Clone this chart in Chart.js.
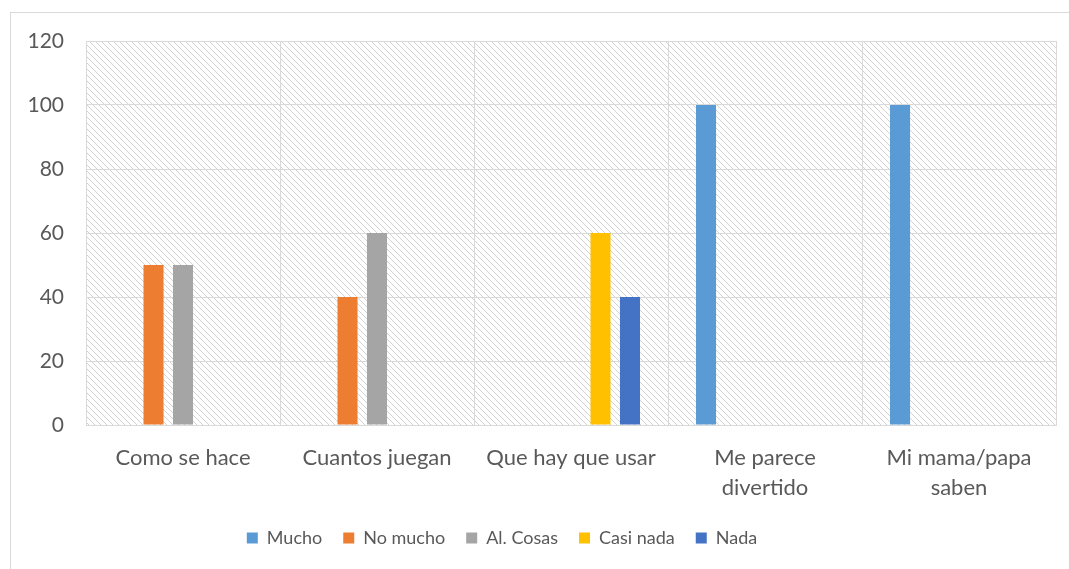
<!DOCTYPE html>
<html>
<head>
<meta charset="utf-8">
<script src="https://cdn.jsdelivr.net/npm/chart.js@4.4.1/dist/chart.umd.min.js"></script>
<style>
  html, body { margin: 0; padding: 0; background: #fff; }
  canvas { display: block; }
</style>
</head>
<body>
<canvas id="myChart" width="1069" height="569"></canvas>
<script>
// data
const categories = ['Como se hace', 'Cuantos juegan', 'Que hay que usar', ['Me parece', 'divertido'], ['Mi mama/papa', 'saben']];
const seriesNames = ['Mucho', 'No mucho', 'Al. Cosas', 'Casi nada', 'Nada'];
const mucho = [0, 0, 0, 100, 100];
const noMucho = [50, 40, 0, 0, 0];
const alCosas = [50, 60, 0, 0, 0];
const casiNada = [0, 0, 60, 0, 0];
const nada = [0, 0, 40, 0, 0];
const yTicks = [0, 20, 40, 60, 80, 100, 120];

const seriesValues = [mucho, noMucho, alCosas, casiNada, nada];
const colors = ['#5b9bd5', '#ed7d31', '#a5a5a5', '#ffc000', '#4472c4'];
const textColor = '#595959';
const gridColor = '#d9d9d9';

// small tile for the diagonal hatch of the plot area
function makeHatch() {
  const c = document.createElement('canvas');
  c.width = 6; c.height = 6;
  const g = c.getContext('2d');
  g.fillStyle = '#d2d2d2';
  for (let i = 0; i < 6; i++) g.fillRect(i, i, 1, 1);
  return c;
}

const hatchBg = {
  id: 'hatchBg',
  afterLayout(chart) {
    // legend sits a bit left of the canvas centre in the original
    chart.legend.left -= 31;
    chart.legend.right -= 31;
  },
  beforeDraw(chart) {
    const { ctx, chartArea: a } = chart;
    ctx.save();
    // outer frame of the chart
    ctx.strokeStyle = gridColor;
    ctx.lineWidth = 1;
    ctx.strokeRect(10.5, 12.5, chart.width, chart.height);
    ctx.fillStyle = ctx.createPattern(makeHatch(), 'repeat');
    ctx.fillRect(a.left, a.top, a.right - a.left, a.bottom - a.top);
    ctx.restore();
  }
};

const ctx = document.getElementById('myChart');

new Chart(ctx, {
  type: 'bar',
  data: {
    labels: categories,
    datasets: seriesNames.map((name, i) => ({
      label: name,
      data: seriesValues[i],
      backgroundColor: colors[i],
      borderWidth: 0,
      barPercentage: 0.68,
      categoryPercentage: 0.76
    }))
  },
  options: {
    responsive: false,
    animation: false,
    layout: {
      padding: { left: 10, right: 13, top: 41, bottom: 12 }
    },
    plugins: {
      tooltip: { enabled: false },
      legend: {
        position: 'bottom',
        labels: {
          boxWidth: 11,
          boxHeight: 11,
          padding: 21,
          color: textColor,
          font: { family: 'Lato', size: 18 }
        }
      }
    },
    scales: {
      y: {
        min: 0,
        max: 120,
        afterFit: scale => { scale.width = 76; },
        afterBuildTicks: scale => { scale.ticks = yTicks.map(v => ({ value: v })); },
        border: { display: false },
        grid: { color: gridColor, drawTicks: false },
        ticks: {
          color: textColor,
          padding: 22,
          font: { family: 'Lato', size: 21 }
        }
      },
      x: {
        afterFit: scale => { scale.height = 83; },
        border: { color: gridColor },
        grid: { color: gridColor, drawTicks: false, offset: true },
        ticks: {
          color: textColor,
          padding: 18,
          maxRotation: 0,
          font: { family: 'Lato', size: 22, lineHeight: 1.36 }
        }
      }
    }
  },
  plugins: [hatchBg]
});
</script>
</body>
</html>
